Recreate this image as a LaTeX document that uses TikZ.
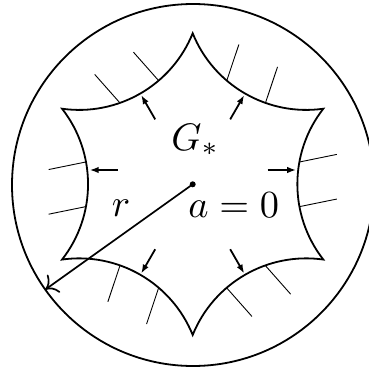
\documentclass[tikz,border=0pt]{standalone}
\usetikzlibrary{arrows.meta,calc}
\begin{document}
\begin{tikzpicture}[x=1bp,y=1bp,
  thickline/.style={line width=1.8bp},
  hatch/.style={line width=0.9bp},
  inarrow/.style={line width=1.8bp,-{Latex[length=9bp,width=6.5bp]}},
  radarrow/.style={line width=1.7bp,-{Computer Modern Rightarrow[length=11bp,width=22bp,line width=1.7bp]}},
  lab/.style={inner sep=0pt,scale=3.85}]
\useasboundingbox (-192.7,-184.7) rectangle (176.3,184.3);
\clip (-192.7,-184.7) rectangle (176.3,184.3);
% outer circle
\coordinate (C) at (0.3,-0.7);
\draw[thickline] (C) circle (181bp);
% star-shaped domain with concave arcs
\draw[thickline] (90:151bp)
  \foreach \p in {60,0,-60,-120,-180,-240}{
    arc[start angle=\p+142,end angle=\p+218,radius=122.5bp]} -- cycle;
% hatch lines
\foreach \p in {0,60,...,300}{
  \foreach \s in {-10.5,10.5}{
    \draw[hatch] ([shift={(\p+180+\s:122.5bp)}]\p:227.3bp) -- ++(\p+11.5:38bp);
  }}
% inner arrows
\foreach \p in {60,120,240,300}{
  \coordinate (s\p) at (\p:75bp);
  \coordinate (e\p) at (\p:103bp);
  \draw[inarrow] (s\p) -- (e\p);
}
\coordinate (sL) at (-75,14.3);
\coordinate (eL) at (-103,14.3);
\coordinate (sR) at (75,14.3);
\coordinate (eR) at (103.5,14.3);
\draw[inarrow] (sL) -- (eL);
\draw[inarrow] (sR) -- (eR);
% labels
\node[lab,anchor=base west] (G) at (-22,34.3) {$G_*$};
\node[lab,anchor=base west] (r) at (-81.5,-31.7) {$r$};
\node[lab,anchor=base west] (a) at (-5,-32.7) {$a=0$};
% centre and radius
\coordinate (O) at (0,0);
\coordinate (T) at ($(C)+(215.3:181bp)$);
\fill (O) circle (3bp);
\draw[radarrow] (O) -- (T);
\end{tikzpicture}
\end{document}
